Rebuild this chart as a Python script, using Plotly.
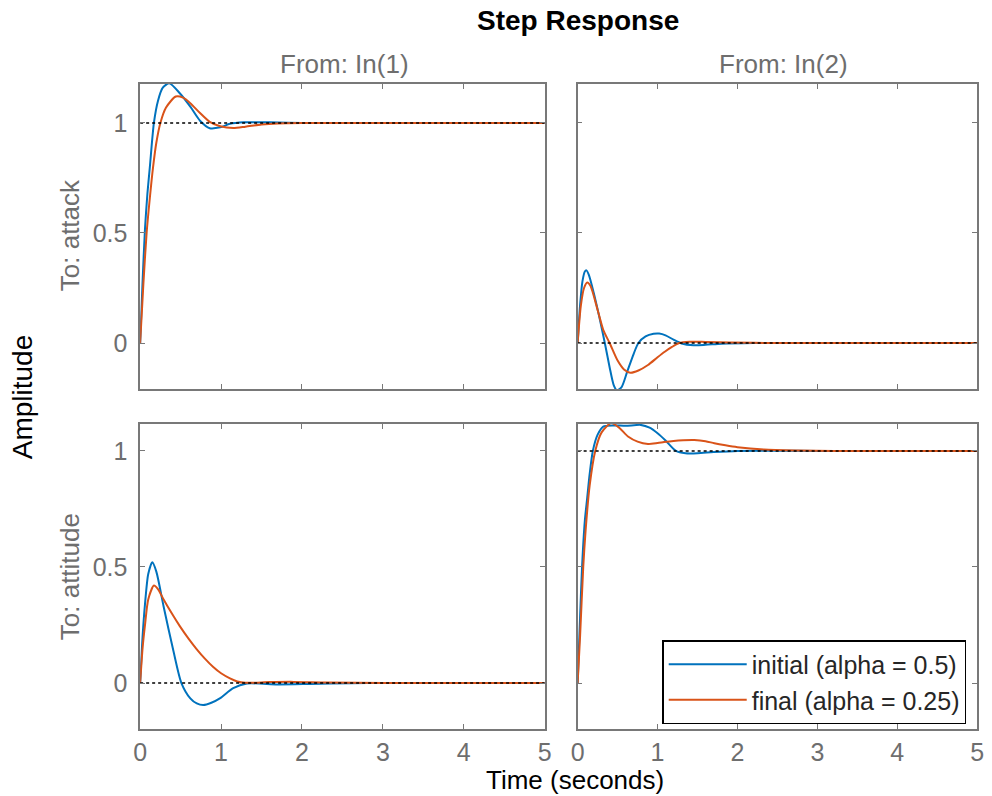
import plotly.graph_objects as go

# ---------------- data ----------------
series_names = ["initial (alpha = 0.5)", "final (alpha = 0.25)"]
col_titles = ["From: In(1)", "From: In(2)"]
row_titles = ["To: attack", "To: attitude"]
x_ticks = [0, 1, 2, 3, 4, 5]
y_ticks = [0, 0.5, 1]
y_tick_text = ["0", "0.5", "1"]

# steady-state (dotted) levels per panel: [attack<-In1, attack<-In2, attitude<-In1, attitude<-In2]
steady_levels = [1, 0, 0, 1]
time_span = [0, 5]

# attack <- In(1)
t_att_in1_init = [0, 0.03, 0.06, 0.09, 0.12, 0.17, 0.22, 0.28, 0.36, 0.49, 0.62, 0.74, 0.86, 0.99, 1.11, 1.28, 1.6, 2.0, 3.0, 4.0, 5.0]
y_att_in1_init = [0, 0.28, 0.52, 0.68, 0.8, 1.0, 1.1, 1.16, 1.18, 1.135, 1.074, 1.01, 0.976, 0.98, 0.996, 1.003, 1.003, 1.0, 1.0, 1.0, 1.0]
t_att_in1_final = [0, 0.04, 0.08, 0.12, 0.16, 0.2, 0.25, 0.32, 0.44, 0.53, 0.62, 0.74, 0.86, 0.99, 1.15, 1.3, 1.5, 1.7, 2.0, 3.0, 4.0, 5.0]
y_att_in1_final = [0, 0.27, 0.5, 0.66, 0.8, 0.91, 1.0, 1.07, 1.12, 1.115, 1.09, 1.045, 1.005, 0.985, 0.977, 0.983, 0.993, 0.998, 1.0, 1.0, 1.0, 1.0]

# attack <- In(2)
t_att_in2_init = [0, 0.03, 0.06, 0.09, 0.11, 0.14, 0.2, 0.27, 0.34, 0.4, 0.45, 0.49, 0.55, 0.62, 0.7, 0.76, 0.85, 0.95, 1.02, 1.1, 1.2, 1.3, 1.45, 1.6, 1.8, 2.2, 3.0, 4.0, 5.0]
y_att_in2_init = [0, 0.17, 0.28, 0.325, 0.33, 0.31, 0.23, 0.12, 0.0, -0.11, -0.19, -0.215, -0.2, -0.13, -0.05, 0.0, 0.03, 0.042, 0.043, 0.035, 0.015, -0.002, -0.01, -0.008, -0.003, 0, 0, 0, 0]
t_att_in2_final = [0, 0.04, 0.08, 0.12, 0.16, 0.25, 0.32, 0.4, 0.5, 0.58, 0.66, 0.76, 0.88, 1.0, 1.09, 1.18, 1.27, 1.4, 1.6, 1.9, 2.5, 3.0, 4.0, 5.0]
y_att_in2_final = [0, 0.17, 0.25, 0.275, 0.26, 0.15, 0.06, 0.0, -0.08, -0.12, -0.135, -0.125, -0.1, -0.065, -0.04, -0.018, 0.0, 0.006, 0.005, 0.002, 0, 0, 0, 0]

# attitude <- In(1)
t_atd_in1_init = [0, 0.03, 0.06, 0.1, 0.15, 0.2, 0.29, 0.41, 0.51, 0.62, 0.7, 0.78, 0.88, 0.99, 1.15, 1.32, 1.7, 2.1, 2.6, 3.0, 4.0, 5.0]
y_atd_in1_init = [0, 0.2, 0.34, 0.47, 0.52, 0.48, 0.33, 0.14, 0.0, -0.066, -0.088, -0.095, -0.085, -0.065, -0.022, -0.002, -0.006, -0.004, -0.001, 0, 0, 0]
t_atd_in1_final = [0, 0.03, 0.06, 0.1, 0.17, 0.22, 0.29, 0.4, 0.49, 0.6, 0.7, 0.8, 0.9, 1.0, 1.11, 1.2, 1.3, 1.6, 1.9, 2.3, 3.0, 4.0, 5.0]
y_atd_in1_final = [0, 0.15, 0.25, 0.36, 0.42, 0.405, 0.36, 0.295, 0.245, 0.19, 0.145, 0.105, 0.07, 0.042, 0.02, 0.007, 0.001, 0.004, 0.005, 0.002, 0, 0, 0]

# attitude <- In(2)
t_atd_in2_init = [0, 0.03, 0.055, 0.09, 0.12, 0.15, 0.19, 0.25, 0.32, 0.45, 0.6, 0.79, 0.9, 1.0, 1.1, 1.23, 1.35, 1.5, 1.7, 2.0, 3.0, 4.0, 5.0]
y_atd_in2_init = [0, 0.28, 0.5, 0.7, 0.8, 0.9, 1.0, 1.07, 1.105, 1.11, 1.108, 1.112, 1.1, 1.076, 1.045, 1.0, 0.99, 0.99, 0.995, 1.0, 1.0, 1.0, 1.0]
t_atd_in2_final = [0, 0.03, 0.07, 0.1, 0.15, 0.22, 0.3, 0.42, 0.52, 0.63, 0.75, 0.88, 1.0, 1.08, 1.2, 1.32, 1.46, 1.6, 1.71, 1.85, 2.0, 2.33, 2.75, 3.2, 4.0, 5.0]
y_atd_in2_final = [0, 0.2, 0.5, 0.66, 0.85, 1.0, 1.08, 1.12, 1.1, 1.062, 1.04, 1.03, 1.034, 1.038, 1.043, 1.046, 1.047, 1.042, 1.033, 1.024, 1.016, 1.006, 1.002, 1.0, 1.0, 1.0]

panels = [
    (t_att_in1_init, y_att_in1_init, t_att_in1_final, y_att_in1_final),
    (t_att_in2_init, y_att_in2_init, t_att_in2_final, y_att_in2_final),
    (t_atd_in1_init, y_atd_in1_init, t_atd_in1_final, y_atd_in1_final),
    (t_atd_in2_init, y_atd_in2_init, t_atd_in2_final, y_atd_in2_final),
]

# ---------------- styling ----------------
W, H = 992, 796
FONT = "Liberation Sans, Arial, Helvetica, sans-serif"
BLUE = "rgb(0,114,189)"
ORANGE = "rgb(217,83,25)"
FRAME = "rgb(120,120,120)"
TICKTXT = "rgb(110,110,110)"


def px(x):
    # horizontal correction observed in the rendered capture
    return ((x - 6.7) / 0.987) / W


def py(y):
    return 1 - y / H


x_dom = [[px(140), px(545)], [px(578), px(978)]]
y_dom = [[py(389), py(84)], [py(729), py(424)]]
y_rng = [[-0.209, 1.177], [-0.198, 1.116]]

fig = go.Figure()

for i, (ti, yi, tf, yf) in enumerate(panels):
    ax = "" if i == 0 else str(i + 1)
    fig.add_trace(go.Scatter(x=ti, y=yi, mode="lines", name=series_names[0],
                             line=dict(color=BLUE, width=2, shape="spline", smoothing=0.7),
                             legendgroup="init", showlegend=(i == 0),
                             xaxis="x" + ax, yaxis="y" + ax))
    fig.add_trace(go.Scatter(x=tf, y=yf, mode="lines", name=series_names[1],
                             line=dict(color=ORANGE, width=2, shape="spline", smoothing=0.7),
                             legendgroup="final", showlegend=(i == 0),
                             xaxis="x" + ax, yaxis="y" + ax))
    fig.add_trace(go.Scatter(x=time_span, y=[steady_levels[i]] * 2, mode="lines",
                             line=dict(color="black", width=1.5, dash="dot"),
                             showlegend=False, hoverinfo="skip",
                             xaxis="x" + ax, yaxis="y" + ax))

layout = dict(
    width=W, height=H, margin=dict(l=0, r=0, t=0, b=0),
    paper_bgcolor="white", plot_bgcolor="white",
    font=dict(family=FONT, size=25, color=TICKTXT),
    showlegend=True,
    legend=dict(x=px(967), y=py(682), xanchor="right", yanchor="middle",
                bgcolor="white", bordercolor="black", borderwidth=1.5,
                font=dict(family=FONT, size=25, color="rgb(38,38,38)"),
                tracegroupgap=0, itemwidth=78),
)

for i in range(4):
    r, c = divmod(i, 2)
    key = "" if i == 0 else str(i + 1)
    common = dict(showline=True, linecolor=FRAME, linewidth=1.5, mirror="ticks",
                  ticks="inside", ticklen=5, tickwidth=1, tickcolor=FRAME,
                  showgrid=False, zeroline=False,
                  tickfont=dict(family=FONT, size=25, color=TICKTXT))
    layout["xaxis" + key] = dict(common, domain=x_dom[c], range=time_span,
                                 anchor="y" + key, tickvals=x_ticks,
                                 ticktext=[str(v) for v in x_ticks],
                                 showticklabels=(r == 1), ticklabelstandoff=0)
    layout["yaxis" + key] = dict(common, domain=y_dom[r], range=y_rng[r],
                                 anchor="x" + key, tickvals=y_ticks,
                                 ticktext=y_tick_text,
                                 showticklabels=(c == 0), ticklabelstandoff=6)

annotations = [
    dict(text="<b>Step Response</b>", x=px(578), y=py(21), font=dict(size=28, color="black")),
    dict(text=col_titles[0], x=px(345), y=py(64), font=dict(size=26, color=TICKTXT)),
    dict(text=col_titles[1], x=px(784), y=py(64), font=dict(size=26, color=TICKTXT)),
    dict(text=row_titles[0], x=px(70), y=py(235), textangle=-90, font=dict(size=26, color=TICKTXT)),
    dict(text=row_titles[1], x=px(70), y=py(577), textangle=-90, font=dict(size=26, color=TICKTXT)),
    dict(text="Amplitude", x=px(22), y=py(397), textangle=-90, font=dict(size=28, color="black")),
    dict(text="Time (seconds)", x=px(575), y=py(796), yanchor="bottom", borderpad=0,
         font=dict(size=26, color="black")),
]
for a in annotations:
    a.setdefault("yanchor", "middle")
    a.update(xref="paper", yref="paper", showarrow=False, xanchor="center")
    a["font"]["family"] = FONT
layout["annotations"] = annotations

fig.update_layout(**layout)
fig.write_html("out.html", config={"displayModeBar": False},
               post_script="document.body.style.margin='0';document.body.style.overflow='hidden';")
